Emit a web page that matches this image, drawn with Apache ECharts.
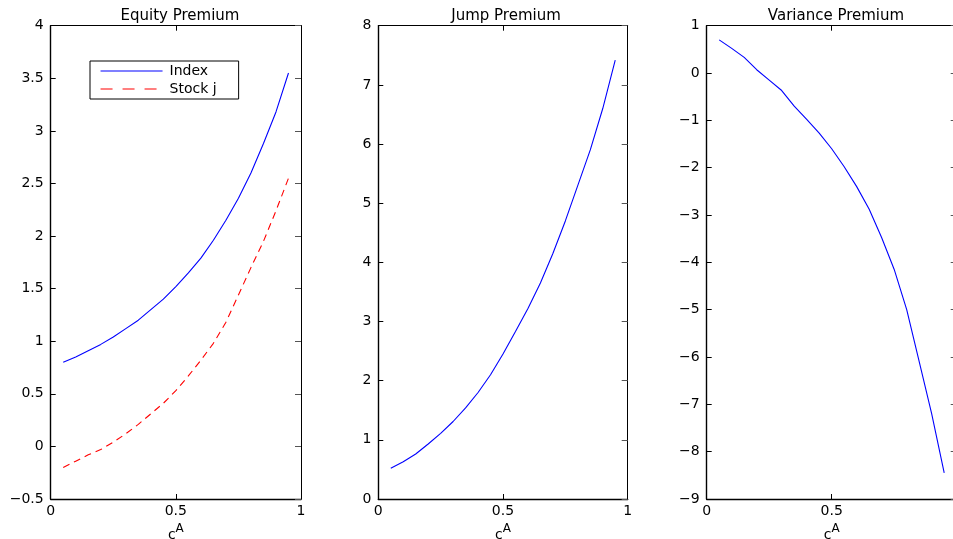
<!DOCTYPE html>
<html>
<head>
<meta charset="utf-8">
<script src="https://cdn.jsdelivr.net/npm/echarts@6/dist/echarts.min.js"></script>
<style>
html,body{margin:0;padding:0;background:#fff;}
#chart{width:953px;height:539px;}
</style>
</head>
<body>
<div id="chart"></div>
<script>
// ---- data ----
const cA = [0.05,0.10,0.15,0.20,0.25,0.30,0.35,0.40,0.45,0.50,0.55,0.60,0.65,0.70,0.75,0.80,0.85,0.90,0.95];
const equityIndex = [0.80,0.85,0.91,0.97,1.04,1.12,1.20,1.30,1.40,1.52,1.65,1.79,1.96,2.15,2.36,2.60,2.88,3.18,3.55];
const equityStockJ = [-0.20,-0.14,-0.08,-0.03,0.04,0.12,0.21,0.31,0.41,0.53,0.67,0.82,0.98,1.18,1.44,1.70,1.95,2.24,2.55];
const jumpPremium = [0.52,0.63,0.76,0.93,1.11,1.31,1.54,1.80,2.10,2.45,2.83,3.22,3.65,4.15,4.70,5.30,5.90,6.60,7.42];
const variancePremium = [0.70,0.52,0.33,0.07,-0.15,-0.37,-0.70,-0.98,-1.27,-1.60,-1.98,-2.40,-2.88,-3.48,-4.15,-5.00,-6.10,-7.20,-8.45];
const panelTitles = ['Equity Premium','Jump Premium','Variance Premium'];
const seriesNames = ['Index','Stock j'];
const xTicks = {min:0, max:1, interval:0.5};
const yTicks = [
  {min:-0.5, max:4, interval:0.5},
  {min:0, max:8, interval:1},
  {min:-9, max:1, interval:1}
];

// ---- layout ----
const FONT = 'DejaVu Sans, Liberation Sans, sans-serif';
const grids = [
  {left:50.7, top:25.7, width:250.3, height:473.3, outerBoundsMode:'none', containLabel:false},
  {left:378.3, top:25.7, width:249.4, height:473.3, outerBoundsMode:'none', containLabel:false},
  {left:706.7, top:25.7, width:250, height:473.3, outerBoundsMode:'none', containLabel:false}
];
const titleX = [175, 501, 831];
const pair = (ys) => cA.map((x,i)=>[x, ys[i]]);
const fmt = (v) => {
  let s = String(Math.round(v*100)/100);
  return s.replace('-', '\u2212');
};

const xAxes = [], yAxes = [], titles = [];
grids.forEach((g, i) => {
  titles.push({
    text: panelTitles[i], left: titleX[i], top: 4, textAlign: 'center',
    textStyle: {fontFamily: FONT, fontSize: 15, fontWeight: 'normal', color: '#000'}
  });
  // bottom x
  xAxes.push({
    type:'value', gridIndex:i, position:'bottom', min:xTicks.min, max:xTicks.max, interval:xTicks.interval,
    axisLine:{show:true, onZero:false, lineStyle:{color:'#000', width:1.4}},
    axisTick:{show:true, inside:true, length:5, lineStyle:{color:'#000'}},
    axisLabel:{color:'#000', fontFamily:FONT, fontSize:14, margin:5, formatter: fmt},
    splitLine:{show:false},
    name:'{c|c}{a|A}', nameLocation:'middle', nameGap:15,
    nameTextStyle:{
      rich:{
        c:{fontFamily:FONT, fontSize:14, color:'#000', padding:[9,0,0,0]},
        a:{fontFamily:FONT, fontSize:12, color:'#000', padding:[0,0,4,0]}
      }
    }
  });
  // top x (frame + ticks)
  xAxes.push({
    type:'value', gridIndex:i, position:'top', min:xTicks.min, max:xTicks.max, interval:xTicks.interval,
    axisLine:{show:true, onZero:false, lineStyle:{color:'#000', width:1}},
    axisTick:{show:true, inside:true, length:5, lineStyle:{color:'#000'}},
    axisLabel:{show:false}, splitLine:{show:false}
  });
  // left y
  yAxes.push({
    type:'value', gridIndex:i, position:'left', min:yTicks[i].min, max:yTicks[i].max, interval:yTicks[i].interval,
    axisLine:{show:true, onZero:false, lineStyle:{color:'#000', width:1.4}},
    axisTick:{show:true, inside:true, length:5, lineStyle:{color:'#000'}},
    axisLabel:{color:'#000', fontFamily:FONT, fontSize:14, margin:7, formatter: fmt},
    splitLine:{show:false}
  });
  // right y
  yAxes.push({
    type:'value', gridIndex:i, position:'right', min:yTicks[i].min, max:yTicks[i].max, interval:yTicks[i].interval,
    axisLine:{show:true, onZero:false, lineStyle:{color:'#000', width:1}},
    axisTick:{show:true, inside:true, length:6, lineStyle:{color:'#555'}},
    axisLabel:{show:false}, splitLine:{show:false}
  });
});

const lineBase = {type:'line', symbol:'none', showSymbol:false, smooth:false, animation:false, silent:true};
const series = [
  Object.assign({}, lineBase, {name:seriesNames[0], xAxisIndex:0, yAxisIndex:0, data:pair(equityIndex),
    lineStyle:{color:'#0000ff', width:1.1}, itemStyle:{color:'#0000ff'}}),
  Object.assign({}, lineBase, {name:seriesNames[1], xAxisIndex:0, yAxisIndex:0, data:pair(equityStockJ),
    lineStyle:{color:'#ff0000', width:1.1, type:[7,5]}, itemStyle:{color:'#ff0000'}}),
  Object.assign({}, lineBase, {name:'Jump', xAxisIndex:2, yAxisIndex:2, data:pair(jumpPremium),
    lineStyle:{color:'#0000ff', width:1.1}, itemStyle:{color:'#0000ff'}}),
  Object.assign({}, lineBase, {name:'Variance', xAxisIndex:4, yAxisIndex:4, data:pair(variancePremium),
    lineStyle:{color:'#0000ff', width:1.1}, itemStyle:{color:'#0000ff'}})
];

const chart = echarts.init(document.getElementById('chart'), null, {renderer:'canvas'});
chart.setOption({
  animation:false,
  backgroundColor:'#fff',
  title: titles,
  grid: grids,
  xAxis: xAxes,
  yAxis: yAxes,
  legend: {
    data: [
      {name: seriesNames[0], lineStyle:{width:1.1, type:'solid'}},
      {name: seriesNames[1], lineStyle:{width:1.1, type:[12,10]}}
    ],
    orient:'vertical', left:90, top:61,
    itemWidth:62, itemHeight:10, itemGap:4,
    padding:[3,22,3,10],
    borderColor:'#000', borderWidth:1, backgroundColor:'#fff',
    itemStyle:{opacity:0},
    textStyle:{fontFamily:FONT, fontSize:14, color:'#000', padding:[0,0,0,2]},
    selectedMode:false
  },
  series: series
});
</script>
</body>
</html>
